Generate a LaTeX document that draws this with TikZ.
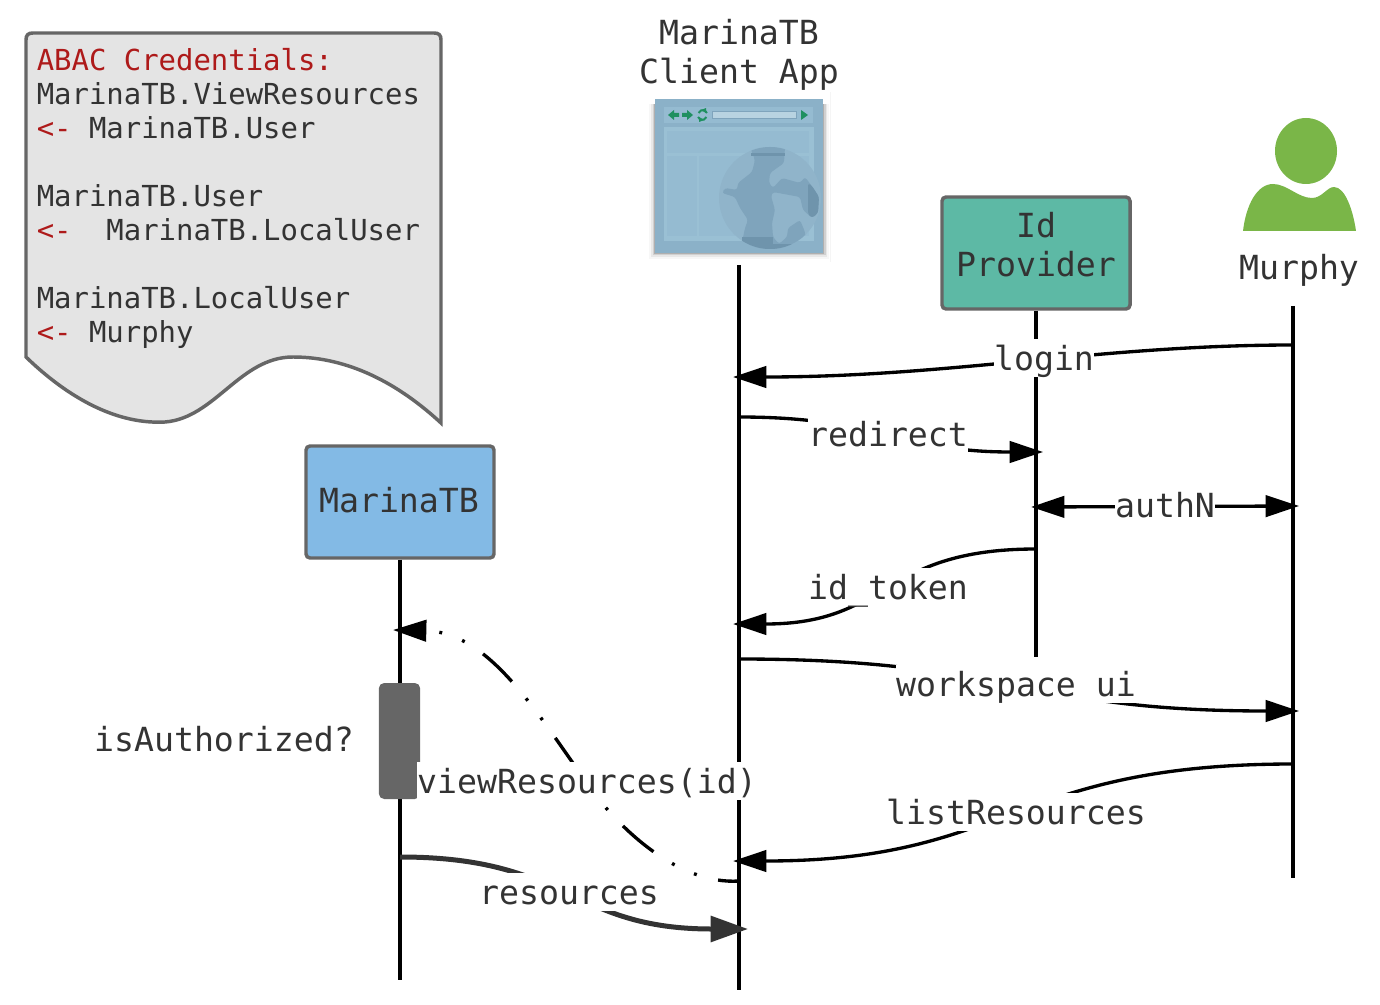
\documentclass[tikz,border=0pt]{standalone}
\usepackage{fontspec}
\setmainfont{DejaVu Sans Mono}
\usetikzlibrary{arrows.meta}
\definecolor{txtgray}{HTML}{333333}
\definecolor{boxline}{HTML}{666666}
\definecolor{credred}{HTML}{AE1A1A}
\definecolor{notegray}{HTML}{E4E4E4}
\definecolor{idpgreen}{HTML}{5DB9A5}
\definecolor{marinablue}{HTML}{83BAE5}
\definecolor{userGreen}{HTML}{7AB648}
\definecolor{winbase}{HTML}{8BB1C8}
\definecolor{winpanel}{HTML}{95BBD1}
\definecolor{winline}{HTML}{9AC0D4}
\definecolor{globelight}{HTML}{90B4CA}
\definecolor{globeland}{HTML}{7FA4BC}
\definecolor{globedark}{HTML}{6F94AC}
\definecolor{wingreen}{HTML}{1F9060}
\begin{document}
\begin{tikzpicture}[
	x=0.75pt,y=-0.75pt,
	every node/.style={text=txtgray,font=\fontsize{24.9}{29.25}\selectfont},
	actorbox/.style={draw=boxline,line width=2.6pt,rounded corners=3pt,minimum width=141pt,minimum height=84pt,align=center},
	lifeline/.style={black,line width=2.4pt},
	msg/.style={black,line width=2.5pt,-{Triangle[length=25pt,width=16pt]}},
	msglabel/.style={fill=white,inner sep=0pt,text height=23.25pt,text depth=5.25pt}
	]
	\useasboundingbox (0,0) rectangle (1380,1005);

	% credentials note
	\draw[draw=boxline,fill=notegray,line width=2.6pt]
		(26,357) .. controls (60,390) and (110,425) .. (165,422)
		.. controls (215,418) and (240,357) .. (293,357)
		.. controls (350,357) and (400,385) .. (441,423) -- (441,40)
		.. controls (441,35) and (439,33) .. (434,33) -- (33,33)
		.. controls (28,33) and (26,35) .. (26,40) -- cycle;
	\node[anchor=north west,inner sep=0pt,align=left,font=\fontsize{21.7}{25.5}\selectfont] (credentials) at (36.5,48)
	{
		\textcolor{credred}{ABAC Credentials:}\\
		MarinaTB.ViewResources\\
		\textcolor{credred}{<-} MarinaTB.User\\
		\mbox{}\\
		MarinaTB.User\\
		\textcolor{credred}{<-}\ \ MarinaTB.LocalUser\\
		\mbox{}\\
		MarinaTB.LocalUser\\
		\textcolor{credred}{<-} Murphy
	};

	% browser window
	\draw[black!4,line width=0.6pt] (830,92) -- (830,262);
	\foreach \s/\o in {6/0.03,4/0.06,2.5/0.10,1/0.16}
		\fill[black,opacity=\o] (655-\s,104) rectangle (823+\s,253+\s);
	\fill[winbase] (655,99) rectangle (823,253);
	\fill[winpanel] (664,107) rectangle (813,123);
	\fill[winline] (664,127) rectangle (814,241);
	\fill[winpanel] (667,131) rectangle (809,153);
	\fill[winpanel] (667,156) rectangle (697,236);
	\fill[winpanel] (699,156) rectangle (809,236);
	\fill[wingreen] (668,115) -- (674,110) -- (674,113) -- (679,113) -- (679,117) -- (674,117) -- (674,120) -- cycle;
	\fill[wingreen] (693,115) -- (687,110) -- (687,113) -- (682,113) -- (682,117) -- (687,117) -- (687,120) -- cycle;
	\draw[wingreen,line width=1.5pt] (707,113) arc (-20:-160:4.5);
	\draw[wingreen,line width=1.5pt] (698,117) arc (160:20:4.5);
	\fill[wingreen] (701,110) -- (706,108) -- (706,113) -- cycle;
	\fill[wingreen] (704,120) -- (699,122) -- (699,117) -- cycle;
	\filldraw[fill=winline!70!white,draw=globeland,line width=0.5pt] (712,111) rectangle (796,118);
	\fill[wingreen] (801,110) -- (808,115) -- (801,120) -- cycle;
	\fill[globelight] (770,198) circle (51);
	\begin{scope}
		\clip (770,198) circle (51);
		\fill[globeland,rounded corners=2pt] (750,147) -- (785,147) -- (784,163) -- (770,173) -- (769,183) -- (773,188)
			-- (782,178) -- (800,183) -- (805,177) -- (811,185) -- (819,197) -- (818,213) -- (812,218) -- (803,210)
			-- (800,197) -- (773,192) -- (771,196) -- (775,210) -- (772,223) -- (773,237) -- (779,244) -- (787,237)
			-- (788,228) -- (800,220) -- (805,232) -- (806,252) -- (740,252) -- (745,228) -- (748,220) -- (740,208)
			-- (735,197) -- (722,193) -- (725,188) -- (737,190) -- (738,183) -- (752,172) -- (755,160) -- cycle;
		\fill[globedark] (751,153) rectangle (785,156);
		\fill[globedark] (742,237) rectangle (773,252);
		\fill[globedark] (773,244) rectangle (806,252);
		\fill[globedark,rounded corners=2pt] (808,183) -- (812,186) -- (819,197) -- (818,213) -- (812,218) -- (808,214) -- cycle;
	\end{scope}

	% actors
	\node[align=center] (client) at (739,55) {MarinaTB\\Client App};
	\node[actorbox,fill=idpgreen] (idp) at (1036,253) {};
	\node[align=center] (idplabel) at (1036,245) {Id\\Provider};
	\node[actorbox,fill=marinablue] (marina) at (400,502) {};
	\node (marinalabel) at (399,500) {MarinaTB};
	\node (murphy) at (1299,270) {Murphy};
	\fill[userGreen] (1306,151) ellipse (31 and 33);
	\fill[userGreen] (1243,231) .. controls (1246,205) and (1257,184) .. (1273,184)
		.. controls (1287,184) and (1298,198) .. (1312,198)
		.. controls (1322,198) and (1327,187) .. (1334,187)
		.. controls (1345,187) and (1353,210) .. (1356,231) -- cycle;

	% lifelines
	\coordinate (clienttop) at (739,265);
	\coordinate (clientend) at (739,990);
	\coordinate (idpend) at (1036,657);
	\coordinate (murphytop) at (1293,306);
	\coordinate (murphyend) at (1293,878);
	\coordinate (marinaend) at (400,980);
	\draw[lifeline] (clienttop) -- (clientend);
	\draw[lifeline] (idp.south) -- (idpend);
	\draw[lifeline] (murphytop) -- (murphyend);
	\draw[lifeline] (marina.south) -- (marinaend);

	% messages
	\draw[msg] (1293,345) .. controls (1100,345) and (950,377) .. (733,377);
	\draw[msg] (739,417) .. controls (880,417) and (900,452) .. (1043,452);
	\draw[msg,{Triangle[length=25pt,width=16pt]}-{Triangle[length=25pt,width=16pt]}] (1031,507) -- (1299,506);
	\draw[msg] (1036,549) .. controls (880,549) and (890,624) .. (733,624);
	\draw[msg] (739,659) .. controls (1010,659) and (1020,711) .. (1299,711);
	\draw[msg] (1293,764) .. controls (1010,764) and (1010,861) .. (733,861);
	\draw[msg,txtgray,line width=3.75pt,-{Triangle[length=28pt,width=19pt]}] (400,857) .. controls (570,857) and (570,929) .. (748,929);
	\draw[msg,dash pattern=on 30pt off 16.5pt on 2.2pt off 16pt on 2.2pt off 16.5pt,dash phase=14.25pt] (739,881)
		.. controls (680,885) and (615,830) .. (575,766)
		.. controls (530,702) and (485,632) .. (393,630);

	% activation
	\node[draw=none,fill=boxline,rounded corners=4pt,minimum width=31pt,minimum height=87pt,inner sep=0pt] (authz) at (399.5,741) {};
	\node (authzlabel) at (224,739) {isAuthorized?};

	% labels
	\node[msglabel] (login) at (1044,358) {login};
	\node[msglabel] (redirect) at (888,434) {redirect};
	\node[msglabel] (authN) at (1165,505) {authN};
	\node[msglabel] (idtoken) at (888,587) {id\_token};
	\node[msglabel] (workspace) at (1016,684) {workspace ui};
	\node[msglabel] (listres) at (1016,812) {listResources};
	\node[msglabel] (viewres) at (587,781) {viewResources(id)};
	\node[msglabel] (resources) at (569,892) {resources};
\end{tikzpicture}
\end{document}
